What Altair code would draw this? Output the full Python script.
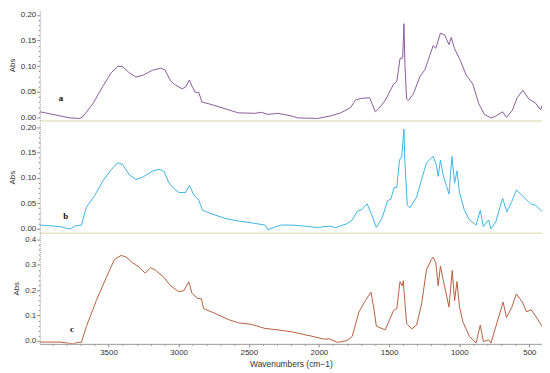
import altair as alt
import pandas as pd

# ---- data (wavenumber cm-1, absorbance) ----
wn_a = [3987, 3775, 3705, 3684, 3611, 3540, 3481, 3434, 3399, 3352, 3305, 3258, 3187, 3128, 3098,
        3057, 3022, 2975, 2951, 2923, 2905, 2881, 2857, 2834, 2763, 2669, 2575, 2457, 2410, 2363,
        2292, 2198, 2151, 2010, 1916, 1845, 1775, 1739, 1703, 1638, 1622, 1598, 1574, 1528, 1468,
        1445, 1422, 1403, 1394, 1387, 1375, 1363, 1327, 1280, 1245, 1186, 1167, 1134, 1104, 1073,
        1057, 1033, 998, 951, 903, 861, 821, 774, 739, 691, 663, 621, 586, 546, 504, 456, 421, 409]
abs_a = [0.011, -0.001, -0.002, 0.001, 0.027, 0.061, 0.087, 0.100, 0.099, 0.087, 0.079, 0.082, 0.092, 0.096, 0.093,
         0.071, 0.063, 0.056, 0.059, 0.073, 0.061, 0.049, 0.049, 0.030, 0.025, 0.017, 0.009, 0.008, 0.010, 0.006,
         0.008, 0.003, -0.001, -0.002, 0.003, 0.009, 0.019, 0.034, 0.037, 0.0385, 0.027, 0.011, 0.017, 0.033, 0.065,
         0.070, 0.115, 0.116, 0.183, 0.102, 0.036, 0.033, 0.046, 0.080, 0.093, 0.140, 0.135, 0.1645, 0.161, 0.142,
         0.156, 0.134, 0.115, 0.083, 0.065, 0.027, 0.006, -0.001, 0.0025, 0.011, 0.0, 0.014, 0.039, 0.053, 0.036, 0.028, 0.015, 0.023]

wn_b = [3987, 3846, 3775, 3740, 3693, 3658, 3599, 3540, 3481, 3434, 3399, 3352, 3305, 3258, 3187,
        3140, 3105, 3069, 3034, 2999, 2951, 2923, 2893, 2857, 2829, 2763, 2669, 2575, 2481, 2386,
        2363, 2340, 2269, 2198, 2104, 2010, 1927, 1881, 1798, 1763, 1727, 1692, 1657, 1622, 1591,
        1551, 1511, 1487, 1464, 1445, 1426, 1410, 1394, 1387, 1370, 1351, 1304, 1268, 1233, 1186,
        1163, 1150, 1134, 1115, 1073, 1052, 1033, 1016, 998, 963, 927, 880, 850, 828, 790, 774,
        739, 691, 661, 626, 593, 550, 492, 456, 410]
abs_b = [0.007, 0.004, -0.001, 0.005, 0.007, 0.042, 0.065, 0.094, 0.116, 0.130, 0.126, 0.106, 0.097, 0.101, 0.113,
         0.117, 0.113, 0.090, 0.079, 0.071, 0.071, 0.085, 0.067, 0.056, 0.036, 0.029, 0.020, 0.015, 0.0115, 0.007,
         -0.0025, 0.0006, 0.007, 0.007, 0.005, 0.002, 0.005, 0.002, 0.010, 0.017, 0.034, 0.038, 0.049, 0.026, 0.0025,
         0.020, 0.055, 0.058, 0.081, 0.081, 0.135, 0.142, 0.196, 0.129, 0.046, 0.041, 0.062, 0.097, 0.130, 0.142,
         0.126, 0.103, 0.135, 0.106, 0.068, 0.142, 0.090, 0.114, 0.071, 0.036, 0.017, 0.007, 0.036, 0.004, 0.017, -0.0006,
         0.0135, 0.060, 0.033, 0.053, 0.076, 0.065, 0.049, 0.046, 0.034]

wn_c = [3987, 3846, 3752, 3717, 3693, 3658, 3587, 3516, 3458, 3410, 3375, 3328, 3281, 3239, 3199,
        3163, 3105, 3057, 2999, 2963, 2928, 2905, 2869, 2838, 2822, 2740, 2646, 2575, 2481, 2386,
        2292, 2198, 2151, 2093, 2057, 1963, 1927, 1869, 1798, 1763, 1715, 1669, 1629, 1610, 1591,
        1528, 1497, 1468, 1445, 1422, 1408, 1398, 1394, 1375, 1339, 1304, 1268, 1233, 1198, 1186,
        1167, 1150, 1134, 1115, 1073, 1050, 1033, 1016, 998, 974, 927, 880, 850, 828, 790, 774,
        739, 687, 663, 626, 593, 550, 520, 487, 444, 409]
abs_c = [-0.005, -0.005, -0.012, -0.006, -0.006, 0.056, 0.159, 0.250, 0.321, 0.337, 0.331, 0.308, 0.291, 0.267, 0.289,
         0.278, 0.250, 0.217, 0.194, 0.198, 0.233, 0.188, 0.168, 0.166, 0.127, 0.108, 0.084, 0.071, 0.065, 0.049,
         0.043, 0.036, 0.030, 0.023, 0.019, 0.0066, 0.0078, -0.006, 0.001, 0.017, 0.114, 0.159, 0.192, 0.133, 0.058,
         0.043, 0.082, 0.120, 0.127, 0.234, 0.217, 0.237, 0.198, 0.069, 0.047, 0.062, 0.146, 0.282, 0.321, 0.330,
         0.308, 0.217, 0.295, 0.243, 0.133, 0.278, 0.159, 0.234, 0.133, 0.075, 0.017, -0.009, 0.062, -0.003, 0.004, -0.009,
         0.056, 0.153, 0.092, 0.131, 0.185, 0.153, 0.114, 0.123, 0.088, 0.056]

panel_names = ["a", "b", "c"]
label_wn = [3839, 3804, 3761]
label_abs = [0.038, 0.025, 0.047]
colors = ["#8b5c9e", "#3cb4e6", "#b5603f"]
y_domains = [[-0.006, 0.211], [-0.008, 0.211], [-0.012, 0.427]]
y_top = [0.20, 0.20, 0.4]
y_major = [0.05, 0.05, 0.1]
y_minor = [0.01, 0.01, 0.02]
y_formats = [".2f", ".2f", ".1f"]
x_major = 500
x_minor = 100
x_tick_range = [500, 3900]
x_domain = [3990, 410]

W, H = 506, 112
FONT = "Liberation Sans"


def y_axis(i):
    n = int(round(y_top[i] / y_minor[i]))
    vals = [round(k * y_minor[i], 3) for k in range(n + 1)]
    m = y_major[i]
    test = f"abs(datum.value/{m} - round(datum.value/{m})) < 0.01"
    return alt.Axis(
        values=vals, labelOverlap=False,
        labelExpr=f"{test} ? format(datum.value, '{y_formats[i]}') : ''",
        tickSize={"condition": {"test": test, "value": 3}, "value": 1.5},
        tickColor="#888",
        domainColor="#999", domainDash=[1, 1], grid=False,
        labelFont=FONT, labelFontSize=8, labelColor="#333", labelPadding=1,
        title="Abs", titleFont=FONT, titleFontSize=8, titleFontWeight="normal",
        titleColor="#333", titlePadding=4,
    )


def panel(i, wn, ab, names_wn, names_abs):
    df = pd.DataFrame({"wn": wn, "abs": ab})
    if i == 2:
        xvals = list(range(x_tick_range[0], x_tick_range[1] + 1, x_minor))
        xtest = f"datum.value % {x_major} == 0"
        xaxis = alt.Axis(
            values=xvals, labelOverlap=False,
            labelExpr=f"{xtest} ? format(datum.value, 'd') : ''",
            tickSize={"condition": {"test": xtest, "value": 3}, "value": 1.5},
            tickColor="#888", domainColor="#999", grid=False,
            labelFont=FONT, labelFontSize=8, labelColor="#333", labelPadding=2,
            title="Wavenumbers (cm\u22121)", titleFont=FONT, titleFontSize=8.5,
            titleFontWeight="normal", titleColor="#333", titlePadding=3,
        )
    else:
        xaxis = alt.Axis(labels=False, ticks=False, title=None, grid=False,
                         domainColor="#e8e4c6", domainWidth=1.5)
    x = alt.X("wn:Q", scale=alt.Scale(domain=x_domain, nice=False, zero=False), axis=xaxis)
    y = alt.Y("abs:Q", scale=alt.Scale(domain=y_domains[i], nice=False, zero=False), axis=y_axis(i))
    line = alt.Chart(df).mark_line(color=colors[i], strokeWidth=1, clip=True).encode(x=x, y=y)
    lab = pd.DataFrame({"wn": [names_wn], "abs": [names_abs], "t": [panel_names[i]]})
    text = alt.Chart(lab).mark_text(font="Liberation Serif", fontWeight="bold", fontSize=9,
                                    color="#111").encode(x=x, y=y, text="t:N")
    return alt.layer(line, text).properties(width=W, height=H)


chart = alt.vconcat(
    panel(0, wn_a, abs_a, label_wn[0], label_abs[0]),
    panel(1, wn_b, abs_b, label_wn[1], label_abs[1]),
    panel(2, wn_c, abs_c, label_wn[2], label_abs[2]),
    spacing=0,
).properties(padding={"left": 0, "top": 0, "right": 0, "bottom": 0}).configure_view(stroke=None)

chart.save("out.html", embed_options={"renderer": "svg", "actions": False})
